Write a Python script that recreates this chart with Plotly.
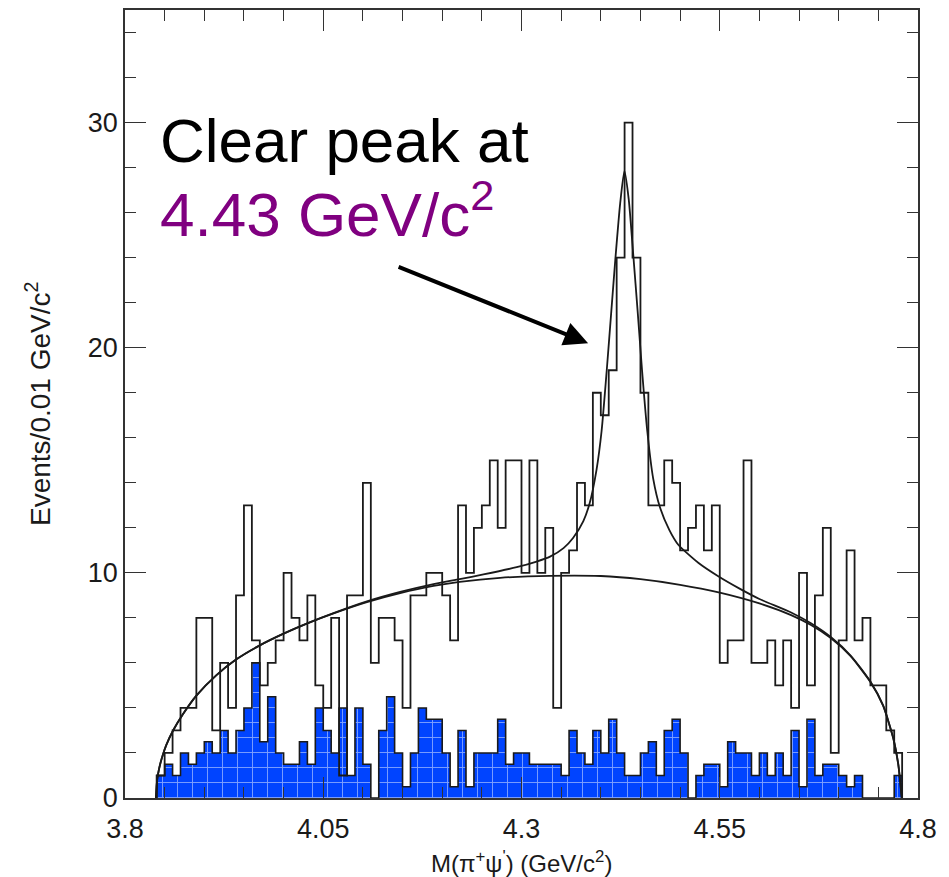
import plotly.graph_objects as go

# Binning of the pi+ psi' invariant-mass histogram (GeV/c^2)
bin_low = 3.84
bin_width = 0.01

# Signal-region events per bin
data_counts = [1, 2, 3, 4, 4, 8, 8, 3, 6, 4,
               9, 13, 7, 5, 6, 7, 10, 8, 7, 9,
               5, 4, 8, 1, 9, 9, 14, 6, 8, 8,
               7, 4, 9, 9, 10, 10, 9, 7, 13, 10,
               12, 13, 15, 12, 15, 15, 10, 15, 10, 12,
               4, 10, 11, 14, 13, 18, 17, 19, 24, 30,
               24, 18, 13, 13, 15, 14, 11, 12, 13, 11,
               13, 6, 7, 7, 15, 6, 6, 7, 5, 7,
               4, 10, 5, 9, 12, 2, 7, 11, 7, 8,
               5, 5, 3, 2]

# Scaled sideband (background) events per bin
sideband_counts = [1, 1.5, 1, 2, 1.5, 2, 2.5, 2, 3, 2,
                   3, 4, 6, 2.5, 4.5, 2, 1.5, 1.5, 2.5, 1.5,
                   4, 3, 2, 4, 1, 4, 1.5, 0, 3, 4.5,
                   2, 0.5, 2, 4, 3.5, 3.5, 2, 0.5, 3, 0.5,
                   2, 2, 2, 3.5, 1.5, 2, 2, 1.5, 1.5, 1.5,
                   1.5, 1, 3, 2, 1.5, 3, 2, 3.5, 2, 1,
                   1, 2, 2.5, 1, 3, 3.5, 2, 0, 1, 1.5,
                   1.5, 0.5, 2.5, 2, 2, 1, 2, 1, 2, 1,
                   3, 0.5, 3.5, 1, 1.5, 1.5, 1, 0.5, 1, 0,
                   0, 0, 0, 1]

# Fitted background shape (phase-space like), sampled along the curve
bkg_mass = [3.839, 3.8405, 3.843, 3.8465, 3.852, 3.861, 3.873, 3.89,
            3.915, 3.94, 3.97, 4.0, 4.033, 4.063, 4.105, 4.147,
            4.189, 4.222, 4.273, 4.336, 4.40, 4.45, 4.50, 4.55,
            4.60, 4.64, 4.665, 4.69, 4.715, 4.74, 4.756, 4.7688,
            4.7751, 4.7795]
bkg_fit = [0.0, 0.8, 1.3, 1.78, 2.35, 3.02, 3.72, 4.55,
           5.45, 6.15, 6.78, 7.3, 7.8, 8.2, 8.7, 9.1,
           9.42, 9.6, 9.78, 9.87, 9.86, 9.72, 9.47, 9.12,
           8.64, 8.12, 7.68, 7.1, 6.3, 5.15, 4.1, 2.65,
           1.5, 0.0]

# Total fit (background + resonance near 4.43), sampled along the curve
tot_mass = [3.839, 3.8405, 3.843, 3.8465, 3.852, 3.861, 3.873, 3.89,
            3.915, 3.94, 3.97, 4.0, 4.033, 4.063, 4.105, 4.147,
            4.189, 4.222, 4.252, 4.294, 4.319, 4.336, 4.353, 4.365,
            4.378, 4.386, 4.3947, 4.401, 4.4075, 4.413, 4.4185, 4.4244,
            4.4298, 4.4352, 4.441, 4.4465, 4.452, 4.4586, 4.466, 4.4747,
            4.4865, 4.4977, 4.5229, 4.5481, 4.575, 4.60, 4.64, 4.665,
            4.69, 4.715, 4.74, 4.756, 4.7688, 4.7751, 4.7795]
tot_fit = [0.0, 0.8, 1.3, 1.78, 2.35, 3.02, 3.72, 4.55,
           5.45, 6.15, 6.78, 7.3, 7.8, 8.21, 8.73, 9.15,
           9.5, 9.72, 9.93, 10.25, 10.5, 10.72, 11.1, 11.55,
           12.3, 13.1, 14.6, 16.3, 19.0, 21.5, 24.0, 26.4,
           27.85, 26.6, 24.1, 21.6, 19.0, 16.3, 14.2, 12.9,
           11.9, 11.25, 10.45, 9.85, 9.3, 8.84, 8.24, 7.76,
           7.15, 6.33, 5.17, 4.11, 2.66, 1.5, 0.0]

x_ticks = [3.8, 4.05, 4.3, 4.55, 4.8]
x_tick_text = ["3.8", "4.05", "4.3", "4.55", "4.8"]


def step_outline(counts):
    """Closed step outline of a histogram, starting and ending on the baseline."""
    edges = [bin_low + i * bin_width for i in range(len(counts) + 1)]
    xs = [edges[0]] + edges + [edges[-1]]
    ys = [0] + list(counts) + [counts[-1], 0]
    return xs, ys


FONT = "Liberation Sans, Arial, sans-serif"
INK = "#1a1a1a"

fig = go.Figure()

# sideband histogram: blue, cross-hatched fill with a black outline
sx, sy = step_outline(sideband_counts)
fig.add_trace(go.Scatter(
    x=sx, y=sy, mode="lines", line=dict(shape="hv", color=INK, width=1.6),
    fill="tozeroy", fillcolor="#0044ff",
    fillpattern=dict(shape="+", bgcolor="#0044ff", fgcolor="white",
                     size=15, solidity=0.12),
    hoverinfo="skip", showlegend=False))

# fit curves
for xs, ys in ((bkg_mass, bkg_fit), (tot_mass, tot_fit)):
    fig.add_trace(go.Scatter(
        x=xs, y=ys, mode="lines",
        line=dict(shape="spline", smoothing=0.6, color=INK, width=1.8),
        hoverinfo="skip", showlegend=False))

# signal-region histogram: open black steps
dx, dy = step_outline(data_counts)
fig.add_trace(go.Scatter(
    x=dx, y=dy, mode="lines", line=dict(shape="hv", color=INK, width=1.8),
    hoverinfo="skip", showlegend=False))

axis_common = dict(
    showline=True, linecolor="#333333", linewidth=1.6, mirror="allticks",
    ticks="inside", ticklen=21, tickwidth=1.4, tickcolor="#333333",
    showgrid=False, zeroline=False,
    tickfont=dict(family=FONT, size=27, color=INK),
)

fig.update_xaxes(range=[3.8, 4.8], tickvals=x_ticks, ticktext=x_tick_text,
                 ticklabelstandoff=6,
                 minor=dict(tick0=3.8, dtick=0.05, ticks="inside", ticklen=11,
                            tickwidth=1.2, tickcolor="#333333"),
                 **axis_common)
fig.update_yaxes(range=[0, 35], tick0=0, dtick=10,
                 minor=dict(tick0=0, dtick=2, ticks="inside", ticklen=11,
                            tickwidth=1.2, tickcolor="#333333"),
                 **axis_common)

# axis titles
fig.add_annotation(xref="paper", yref="paper", x=0.5, y=0, yshift=-64,
                   text="M(\u03c0<sup>+</sup>\u03c8<sup>'</sup>) (GeV/c<sup>2</sup>)",
                   showarrow=False, xanchor="center", yanchor="middle",
                   font=dict(family=FONT, size=24, color=INK))
fig.add_annotation(xref="paper", yref="paper", x=0, xshift=-87, y=0.5,
                   text="Events/0.01 GeV/c<sup>2</sup>", textangle=-90,
                   showarrow=False, xanchor="center", yanchor="middle",
                   font=dict(family=FONT, size=28, color=INK))

# call-out text and arrow
fig.add_annotation(xref="x", yref="y", x=3.842, y=29.2,
                   text="Clear peak at", showarrow=False,
                   xanchor="left", yanchor="middle",
                   font=dict(family=FONT, size=62, color="black"))
fig.add_annotation(xref="x", yref="y", x=3.842, y=26.1,
                   text="4.43 GeV/c<sup>2</sup>", showarrow=False,
                   xanchor="left", yanchor="middle",
                   font=dict(family=FONT, size=62, color="#800080"))
fig.add_annotation(xref="x", yref="y", x=4.384, y=20.2,
                   ax=-191, ay=-77, axref="pixel", ayref="pixel",
                   text="", showarrow=True, arrowhead=2, arrowsize=1.2,
                   arrowwidth=4, arrowcolor="black")

fig.update_layout(
    width=949, height=877, autosize=False,
    margin=dict(l=125, r=31, t=8, b=79),
    paper_bgcolor="white", plot_bgcolor="white",
    showlegend=False,
)

fig.write_html("out.html")
